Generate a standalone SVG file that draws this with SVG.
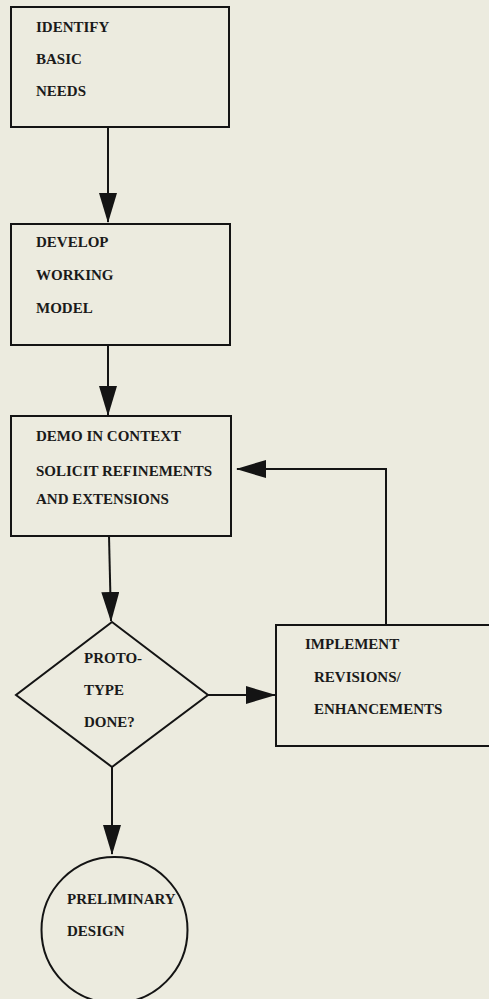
<svg xmlns="http://www.w3.org/2000/svg" width="489" height="999" viewBox="0 0 489 999">
<style>
.bg{fill:#ecebdf}
.shape{fill:none;stroke:#141414;stroke-width:2}
.conn{fill:none;stroke:#141414;stroke-width:2}
text{font-family:"Liberation Serif","Times New Roman",serif;font-size:15px;font-weight:bold;fill:#1a1a1a}
</style>
<defs>
<marker id="arrow" markerUnits="userSpaceOnUse" markerWidth="30" markerHeight="18" refX="29" refY="9" orient="auto" viewBox="0 0 30 18">
<path d="M0,0 L30,9 L0,18 z" fill="#141414"/>
</marker>
</defs>
<rect class="bg" x="0" y="0" width="489" height="999"/>
<g id="connectors">
<line class="conn" x1="108" y1="127" x2="108" y2="222" marker-end="url(#arrow)"/>
<line class="conn" x1="108" y1="345" x2="108" y2="415" marker-end="url(#arrow)"/>
<line class="conn" x1="109" y1="536" x2="111" y2="621" marker-end="url(#arrow)"/>
<line class="conn" x1="208" y1="695" x2="275" y2="695" marker-end="url(#arrow)"/>
<polyline class="conn" points="386,625 386,469 237,469" marker-end="url(#arrow)"/>
<line class="conn" x1="112" y1="767" x2="112" y2="854" marker-end="url(#arrow)"/>
</g>
<g id="identify">
<rect class="shape" x="11" y="7" width="218" height="120"/>
<text x="36" y="32">IDENTIFY</text>
<text x="36" y="64">BASIC</text>
<text x="36" y="96">NEEDS</text>
</g>
<g id="develop">
<rect class="shape" x="11" y="224" width="219" height="121"/>
<text x="36" y="247">DEVELOP</text>
<text x="36" y="280">WORKING</text>
<text x="36" y="313">MODEL</text>
</g>
<g id="demo">
<rect class="shape" x="11" y="416" width="220" height="120"/>
<text x="36" y="441">DEMO IN CONTEXT</text>
<text x="36" y="476">SOLICIT REFINEMENTS</text>
<text x="36" y="504">AND EXTENSIONS</text>
</g>
<g id="done">
<polygon class="shape" points="112,622 208,695 112,767 16,695"/>
<text x="84" y="663">PROTO-</text>
<text x="84" y="695">TYPE</text>
<text x="84" y="727">DONE?</text>
</g>
<g id="implement">
<rect class="shape" x="276" y="625" width="220" height="121"/>
<text x="305" y="649">IMPLEMENT</text>
<text x="314" y="682">REVISIONS/</text>
<text x="314" y="714">ENHANCEMENTS</text>
</g>
<g id="preliminary">
<circle class="shape" cx="114.5" cy="930" r="73"/>
<text x="67" y="904">PRELIMINARY</text>
<text x="67" y="936">DESIGN</text>
</g>
</svg>
